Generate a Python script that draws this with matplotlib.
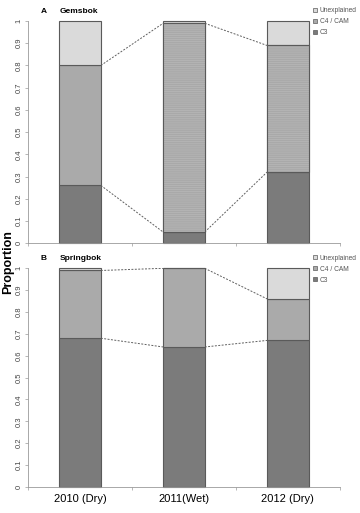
import numpy as np
import matplotlib
matplotlib.use('Agg')
import matplotlib.pyplot as plt
from matplotlib.patches import Patch

# ===== 数据 =====
years = ['2010 (Dry)', '2011(Wet)', '2012 (Dry)']
series = ['C3', 'C4 / CAM', 'Unexplained']

# A: Gemsbok
gems_c3 = [0.26, 0.05, 0.32]
gems_c4 = [0.54, 0.94, 0.57]
gems_un = [0.20, 0.01, 0.11]
gems_hatched = [False, True, True]

# B: Springbok
spring_c3 = [0.68, 0.64, 0.67]
spring_c4 = [0.31, 0.36, 0.19]
spring_un = [0.01, 0.00, 0.14]
spring_hatched = [False, False, False]

col_c3 = '#7b7b7b'
col_c4 = '#aaaaaa'
col_un = '#dadada'
edge = '#5a5a5a'
axis_col = '#9a9a9a'

plt.rcParams['font.family'] = ['Liberation Sans', 'DejaVu Sans']

fig = plt.figure(figsize=(3.6, 5.13), dpi=100)
axA = fig.add_axes([0.078, 0.526, 0.866, 0.433])
axB = fig.add_axes([0.078, 0.051, 0.866, 0.426])


def draw_panel(ax, c3, c4, un, hatched, letter, name, show_xlabels):
    x = np.arange(len(years))
    w = 0.4
    c3 = np.array(c3)
    c4 = np.array(c4)
    un = np.array(un)
    ax.bar(x, c3, w, color=col_c3, edgecolor=edge, lw=0.8, clip_on=False, zorder=2)
    ax.bar(x, c4, w, bottom=c3, color=col_c4, edgecolor=edge, lw=0.8, clip_on=False, zorder=2)
    # 纹理（部分柱子有横线纹理）
    for i, h in enumerate(hatched):
        if h:
            ax.bar(x[i], c4[i], w, bottom=c3[i], color='#b8b8b8', edgecolor='#a9a9a9',
                   lw=0, hatch='--------', clip_on=False, zorder=2.5)
            ax.bar(x[i], c4[i], w, bottom=c3[i], fill=False, edgecolor=edge, lw=0.8,
                   clip_on=False, zorder=2.6)
    ax.bar(x, un, w, bottom=c3 + c4, color=col_un, edgecolor=edge, lw=0.8, clip_on=False, zorder=2)

    # 柱子之间的虚线
    for top in [c3, c3 + c4]:
        for i in range(len(x) - 1):
            ax.plot([x[i] + w / 2, x[i + 1] - w / 2], [top[i], top[i + 1]],
                    ls=(0, (2, 1.5)), color='#606060', lw=0.7, zorder=1)

    for s in ['top', 'right']:
        ax.spines[s].set_visible(False)
    for s in ['left', 'bottom']:
        ax.spines[s].set_color(axis_col)
        ax.spines[s].set_linewidth(0.6)

    ax.set_xlim(-0.5, 2.5)
    ax.set_ylim(0, 1)
    ax.set_yticks(np.arange(0, 1.01, 0.1))
    ax.set_yticklabels(['0'] + [f'{v:.1f}' for v in np.arange(0.1, 0.95, 0.1)] + ['1'])
    ax.set_xticks([-0.5, 0.5, 1.5, 2.5])
    ax.set_xticklabels([])
    ax.tick_params(axis='both', length=2, width=0.5, color=axis_col, pad=2)
    ax.tick_params(axis='y', labelsize=5.5, labelcolor='#444444', labelrotation=90)
    for t in ax.get_yticklabels():
        t.set_va('center')

    if show_xlabels:
        for i, lab in enumerate(years):
            ax.text(x[i], -0.035, lab, ha='center', va='top', fontsize=8,
                    transform=ax.transData)

    ax.text(-0.38, 1.045, letter, fontsize=6, fontweight='bold', ha='left', va='center',
            transform=ax.transData, clip_on=False)
    ax.text(-0.2, 1.045, name, fontsize=6, fontweight='bold', ha='left', va='center',
            transform=ax.transData, clip_on=False)

    handles = [Patch(facecolor=col_un, edgecolor=edge, lw=0.5),
               Patch(facecolor=col_c4, edgecolor=edge, lw=0.5),
               Patch(facecolor=col_c3, edgecolor=edge, lw=0.5)]
    leg = ax.legend(handles, ['Unexplained', 'C4 / CAM', 'C3'], loc='upper left',
                    bbox_to_anchor=(0.905, 1.075), frameon=False, fontsize=4.8,
                    handlelength=0.6, handleheight=0.6, handletextpad=0.4,
                    labelspacing=0.6, borderaxespad=0)
    for t in leg.get_texts():
        t.set_color('#555555')


draw_panel(axA, gems_c3, gems_c4, gems_un, gems_hatched, 'A', 'Gemsbok', False)
draw_panel(axB, spring_c3, spring_c4, spring_un, spring_hatched, 'B', 'Springbok', True)

fig.text(0.022, 0.49, 'Proportion', rotation=90, ha='center', va='center',
         fontsize=9, fontweight='bold')

fig.savefig('out.png', dpi=100)
